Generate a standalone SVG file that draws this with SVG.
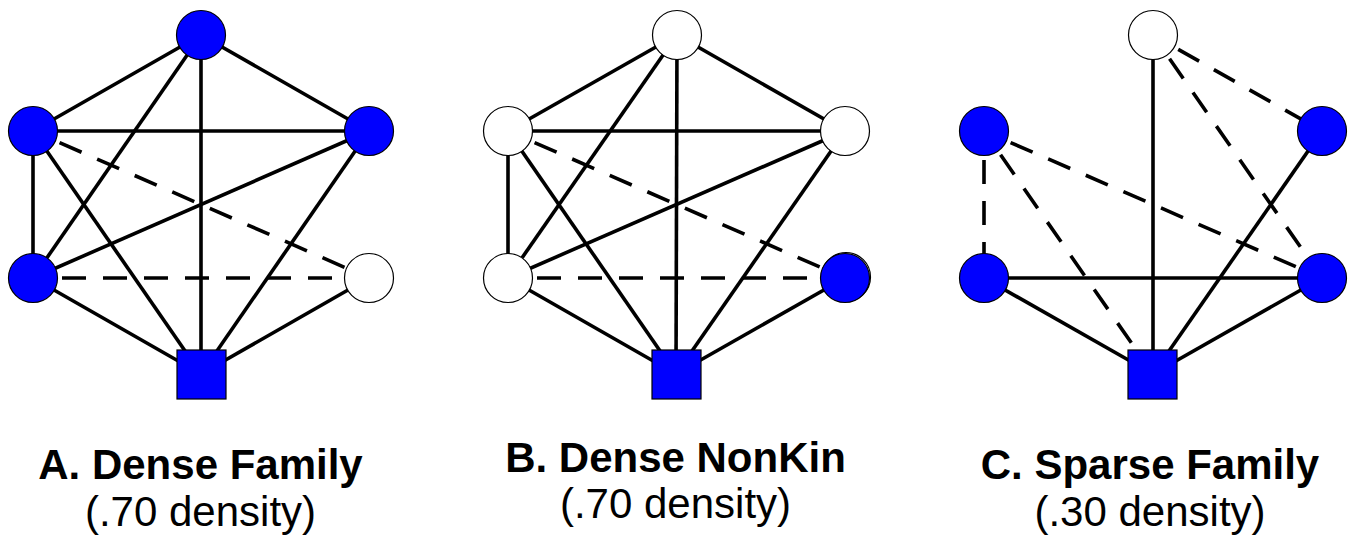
<svg xmlns="http://www.w3.org/2000/svg" width="1350" height="537" viewBox="0 0 1350 537">
<style>
.e{stroke:#000;stroke-width:3.6;fill:none}
.d{stroke:#000;stroke-width:3.6;fill:none;stroke-dasharray:24 17}
.b{fill:#0000ff;stroke:#000;stroke-width:1.2}
.w{fill:#fff;stroke:#000;stroke-width:1.2}
.t{font-family:"Liberation Sans",Arial,sans-serif;font-size:42px;font-weight:bold;text-anchor:middle;fill:#000}
.s{font-family:"Liberation Sans",Arial,sans-serif;font-size:42px;text-anchor:middle;fill:#000}
</style>
<rect width="1350" height="537" fill="#fff"/>
<g id="connectors">
<!-- A -->
<line class="e" x1="201" y1="35" x2="33" y2="131"/>
<line class="e" x1="201" y1="35" x2="369" y2="131"/>
<line class="e" x1="201" y1="35" x2="33" y2="278"/>
<line class="e" x1="201" y1="35" x2="201" y2="374"/>
<line class="e" x1="33" y1="131" x2="369" y2="131"/>
<line class="e" x1="33" y1="131" x2="33" y2="278"/>
<line class="e" x1="33" y1="131" x2="201" y2="374"/>
<line class="d" x1="33" y1="131" x2="369" y2="278" stroke-dashoffset="12"/>
<line class="e" x1="33" y1="278" x2="369" y2="131"/>
<line class="d" x1="33" y1="278" x2="369" y2="278" stroke-dashoffset="12"/>
<line class="e" x1="33" y1="278" x2="201" y2="374"/>
<line class="e" x1="369" y1="131" x2="201" y2="374"/>
<line class="e" x1="369" y1="278" x2="201" y2="374"/>
<!-- B -->
<line class="e" x1="677" y1="35" x2="508" y2="131"/>
<line class="e" x1="677" y1="35" x2="845" y2="131"/>
<line class="e" x1="677" y1="35" x2="508" y2="278"/>
<line class="e" x1="677" y1="35" x2="676" y2="374"/>
<line class="e" x1="508" y1="131" x2="845" y2="131"/>
<line class="e" x1="508" y1="131" x2="508" y2="278"/>
<line class="e" x1="508" y1="131" x2="676" y2="374"/>
<line class="d" x1="508" y1="131" x2="845" y2="278" stroke-dashoffset="12"/>
<line class="e" x1="508" y1="278" x2="845" y2="131"/>
<line class="d" x1="508" y1="278" x2="845" y2="278" stroke-dashoffset="12"/>
<line class="e" x1="508" y1="278" x2="676" y2="374"/>
<line class="e" x1="845" y1="131" x2="676" y2="374"/>
<line class="e" x1="845" y1="278" x2="676" y2="374"/>
<!-- C -->
<line class="e" x1="1153" y1="35" x2="1153" y2="374"/>
<line class="d" x1="1153" y1="35" x2="1322" y2="131" stroke-dashoffset="12"/>
<line class="d" x1="1153" y1="35" x2="1322" y2="278" stroke-dashoffset="12"/>
<line class="d" x1="984" y1="131" x2="984" y2="278" stroke-dashoffset="12"/>
<line class="d" x1="984" y1="131" x2="1153" y2="374" stroke-dashoffset="12"/>
<line class="d" x1="984" y1="131" x2="1322" y2="278" stroke-dashoffset="12"/>
<line class="e" x1="984" y1="278" x2="1322" y2="278"/>
<line class="e" x1="984" y1="278" x2="1153" y2="374"/>
<line class="e" x1="1322" y1="131" x2="1153" y2="374"/>
<line class="e" x1="1322" y1="278" x2="1153" y2="374"/>
</g>
<g id="A-top"><circle class="b" cx="201" cy="35" r="24.5"/></g>
<g id="A-lu"><circle class="b" cx="33" cy="131" r="24.5"/></g>
<g id="A-ru"><circle class="b" cx="369" cy="131" r="24.5"/></g>
<g id="A-ll"><circle class="b" cx="33" cy="278" r="24.5"/></g>
<g id="A-rl"><circle class="w" cx="369" cy="278" r="24.5"/></g>
<g id="A-ego"><rect class="b" x="177" y="350" width="49" height="49"/></g>
<g id="B-top"><circle class="w" cx="677" cy="35" r="24.5"/></g>
<g id="B-lu"><circle class="w" cx="508" cy="131" r="24.5"/></g>
<g id="B-ru"><circle class="w" cx="845" cy="131" r="24.5"/></g>
<g id="B-ll"><circle class="w" cx="508" cy="278" r="24.5"/></g>
<g id="B-rl"><circle class="w" cx="846" cy="277" r="24.5"/><circle class="b" cx="845" cy="278" r="24.5"/></g>
<g id="B-ego"><rect class="b" x="652" y="350" width="49" height="49"/></g>
<g id="C-top"><circle class="w" cx="1153" cy="35" r="24.5"/></g>
<g id="C-lu"><circle class="b" cx="984" cy="131" r="24.5"/></g>
<g id="C-ru"><circle class="b" cx="1322" cy="131" r="24.5"/></g>
<g id="C-ll"><circle class="b" cx="984" cy="278" r="24.5"/></g>
<g id="C-rl"><circle class="b" cx="1322" cy="278" r="24.5"/></g>
<g id="C-ego"><rect class="b" x="1128" y="350" width="49" height="49"/></g>
<g id="labels">
<text class="t" x="200.5" y="479">A. Dense Family</text>
<text class="s" x="200.5" y="526">(.70 density)</text>
<text class="t" x="675.5" y="472">B. Dense NonKin</text>
<text class="s" x="675.5" y="518">(.70 density)</text>
<text class="t" x="1150" y="479">C. Sparse Family</text>
<text class="s" x="1150" y="526">(.30 density)</text>
</g>
</svg>
